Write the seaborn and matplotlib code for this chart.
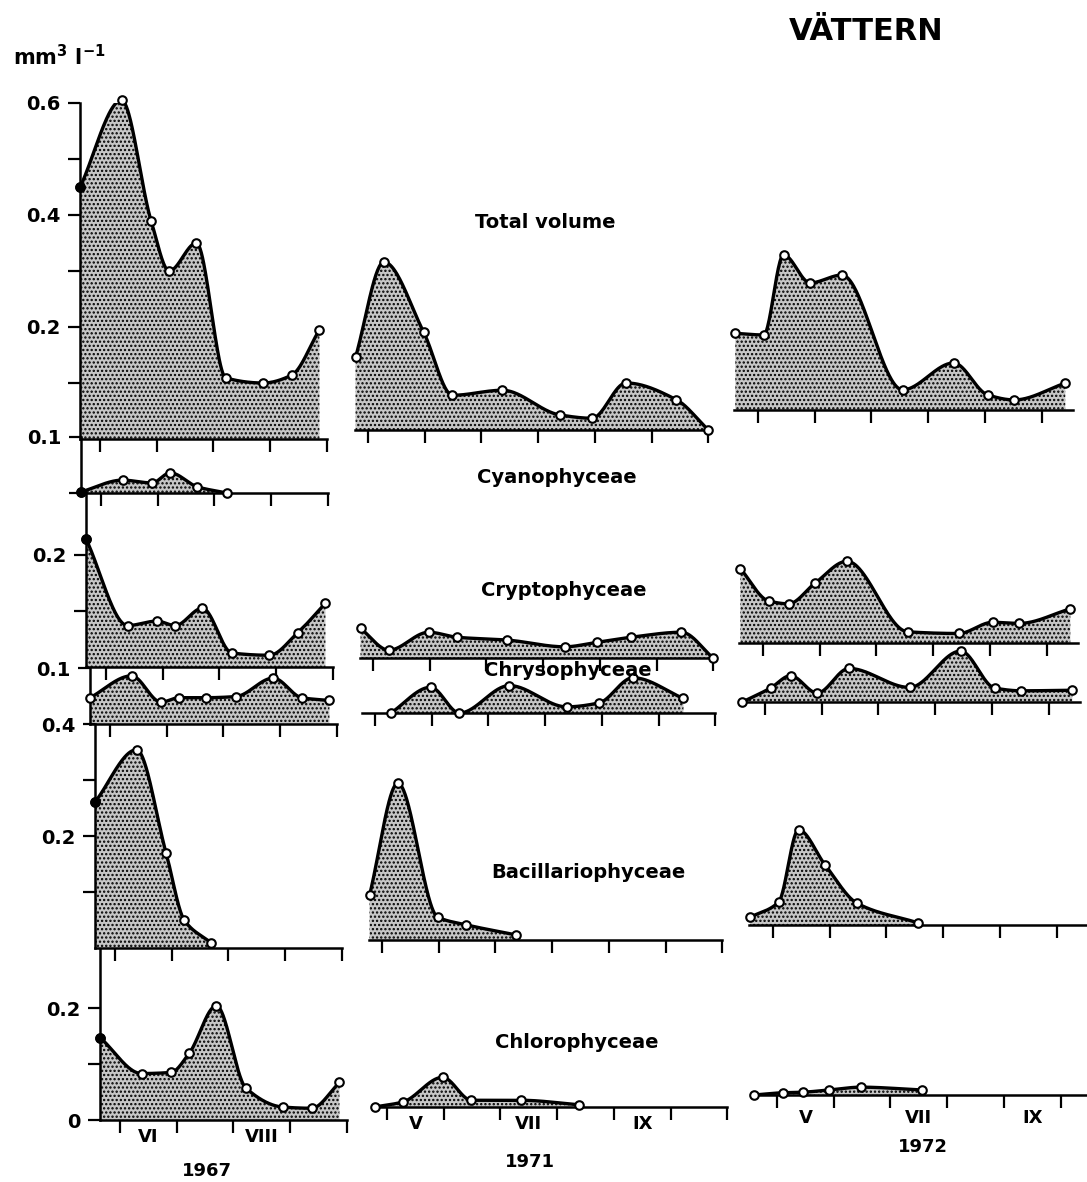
import numpy as np
import matplotlib
matplotlib.use("Agg")
import matplotlib.pyplot as plt
import seaborn as sns

# ---------------- data (values in mm3 l-1, dates in month units: 6.0 = 1 June) -------------
nan = np.nan
panels = ["Total volume", "Cyanophyceae", "Cryptophyceae", "Chrysophyceae",
          "Bacillariophyceae", "Chlorophyceae"]

dates_1967 = [5.65, 6.38, 6.90, 7.22, 7.70, 8.22, 8.88, 9.38, 9.87]
total_1967 = [0.45, 0.605, 0.39, 0.30, 0.35, 0.109, 0.100, 0.114, 0.195]
cyano_1967 = [0.002, 0.023, 0.018, 0.036, 0.011, 0.0, nan, nan, nan]
crypto_1967 = [0.228, 0.074, 0.082, 0.074, 0.105, 0.025, 0.021, 0.061, 0.114]
chryso_1967 = [0.047, 0.086, 0.039, 0.047, 0.047, 0.049, 0.082, 0.047, 0.042]
bacil_1967 = [0.261, 0.354, 0.170, 0.050, 0.009, nan, nan, nan, nan]
chloro_1967 = [0.147, 0.083, 0.085, 0.119, 0.204, 0.057, 0.023, 0.021, 0.067]

dates_1971 = [4.78, 5.28, 5.98, 6.49, 7.37, 8.38, 8.95, 9.55, 10.44, 11.0]
total_1971 = [0.130, 0.300, 0.175, 0.062, 0.071, 0.027, 0.021, 0.084, 0.054, 0.0]
crypto_1971 = [0.053, 0.014, 0.046, 0.037, 0.032, 0.020, 0.028, 0.037, 0.046, 0.0]
chryso_1971 = [nan, 0.0, 0.046, 0.0, 0.049, 0.011, 0.018, 0.063, 0.026, nan]
bacil_1971 = [0.080, 0.280, 0.041, 0.027, 0.009, nan, nan, nan, nan, nan]
chloro_1971 = [0.0, 0.009, 0.053, 0.012, 0.012, 0.004, nan, nan, nan, nan]

dates_1972 = [4.60, 5.10, 5.45, 5.92, 6.48, 7.55, 8.45, 9.05, 9.52, 10.42]
total_1972 = [0.137, 0.134, 0.277, 0.227, 0.241, 0.036, 0.084, 0.027, 0.018, 0.048]
crypto_1972 = [0.133, 0.075, 0.070, 0.107, 0.146, 0.020, 0.017, 0.037, 0.035, 0.061]
chryso_1972 = [0.0, 0.025, 0.047, 0.016, 0.060, 0.026, 0.091, 0.025, 0.020, 0.021]
bacil_1972 = [0.014, 0.041, 0.170, 0.107, 0.039, 0.004, nan, nan, nan, nan]
chloro_1972 = [0.0, 0.004, 0.005, 0.009, 0.014, 0.009, nan, nan, nan, nan]

years = ["1967", "1971", "1972"]
month_labels_1967 = {6.5: "VI", 8.5: "VIII"}
month_labels_1971 = {5.5: "V", 7.5: "VII", 9.5: "IX"}
month_labels_1972 = {5.5: "V", 7.5: "VII", 9.5: "IX"}

series = {
    "1967": (dates_1967, {"Total volume": total_1967, "Cyanophyceae": cyano_1967,
                          "Cryptophyceae": crypto_1967, "Chrysophyceae": chryso_1967,
                          "Bacillariophyceae": bacil_1967, "Chlorophyceae": chloro_1967}),
    "1971": (dates_1971, {"Total volume": total_1971, "Cryptophyceae": crypto_1971,
                          "Chrysophyceae": chryso_1971, "Bacillariophyceae": bacil_1971,
                          "Chlorophyceae": chloro_1971}),
    "1972": (dates_1972, {"Total volume": total_1972, "Cryptophyceae": crypto_1972,
                          "Chrysophyceae": chryso_1972, "Bacillariophyceae": bacil_1972,
                          "Chlorophyceae": chloro_1972}),
}
month_labels = {"1967": month_labels_1967, "1971": month_labels_1971, "1972": month_labels_1972}

# ---------------- layout (pixels of the 1087x1182 page) ----------------
sns.set_style("white")
plt.rcParams["font.family"] = ["DejaVu Sans"]
plt.rcParams["font.weight"] = "bold"
plt.rcParams["hatch.linewidth"] = 1.1
for k in ["text.color", "axes.labelcolor", "xtick.color", "ytick.color", "axes.edgecolor"]:
    plt.rcParams[k] = "black"

W, H = 1087, 1182
PXM = 56.7     # pixels per month
PXU = 560.0    # pixels per 1 mm3 l-1

col_cfg = {
    "1967": dict(xlim=(5.65, 10.0), ref=6.0, ticks=[6, 7, 8, 9, 10]),
    "1971": dict(xlim=(4.77, 11.0), ref=5.0, ticks=[5, 6, 7, 8, 9, 10, 11]),
    "1972": dict(xlim=(4.57, 10.55), ref=5.0, ticks=[5, 6, 7, 8, 9, 10]),
}
# (baseline y px, ymax, x px of reference month tick)
panel_pos = {
    "1967": {"Total volume": (439, 0.6, 100), "Cyanophyceae": (493, 0.1, 101),
             "Cryptophyceae": (667, 0.31, 106), "Chrysophyceae": (724, 0.1, 110),
             "Bacillariophyceae": (948, 0.4, 115), "Chlorophyceae": (1120, 0.305, 120)},
    "1971": {"Total volume": (430, 0.32, 368), "Cryptophyceae": (658, 0.2, 373),
             "Chrysophyceae": (713, 0.1, 375), "Bacillariophyceae": (940, 0.3, 382),
             "Chlorophyceae": (1107, 0.1, 387)},
    "1972": {"Total volume": (410, 0.3, 758), "Cryptophyceae": (643, 0.2, 763),
             "Chrysophyceae": (702, 0.1, 765), "Bacillariophyceae": (925, 0.2, 773),
             "Chlorophyceae": (1095, 0.1, 777)},
}
yticks_1967 = {
    "Total volume": ([0.1, 0.2, 0.3, 0.4, 0.5, 0.6], ["", "0.2", "", "0.4", "", "0.6"]),
    "Cyanophyceae": ([0.0, 0.1], ["", "0.1"]),
    "Cryptophyceae": ([0.1, 0.2], ["", "0.2"]),
    "Chrysophyceae": ([0.1], ["0.1"]),
    "Bacillariophyceae": ([0.1, 0.2, 0.3, 0.4], ["", "0.2", "", "0.4"]),
    "Chlorophyceae": ([0.0, 0.1, 0.2], ["0", "", "0.2"]),
}


def pchip(x, y, xs):
    """Shape-preserving cubic curve through the measured points (drawing only)."""
    x = np.asarray(x, float)
    y = np.asarray(y, float)
    h = np.diff(x)
    d = np.diff(y) / h
    n = len(x)
    m = np.zeros(n)
    for k in range(1, n - 1):
        if d[k - 1] * d[k] > 0:
            w1 = 2 * h[k] + h[k - 1]
            w2 = h[k] + 2 * h[k - 1]
            m[k] = (w1 + w2) / (w1 / d[k - 1] + w2 / d[k])
    m[0] = d[0]
    m[-1] = d[-1]
    idx = np.clip(np.searchsorted(x, xs) - 1, 0, n - 2)
    t = (xs - x[idx]) / h[idx]
    h00 = 2 * t**3 - 3 * t**2 + 1
    h10 = t**3 - 2 * t**2 + t
    h01 = -2 * t**3 + 3 * t**2
    h11 = t**3 - t**2
    return h00 * y[idx] + h10 * h[idx] * m[idx] + h01 * y[idx + 1] + h11 * h[idx] * m[idx + 1]


fig = plt.figure(figsize=(W / 100, H / 100), dpi=100)

for yr in years:
    cfg = col_cfg[yr]
    dates, vals = series[yr]
    for name in panels:
        if name not in panel_pos[yr]:
            continue
        base, ymax, refpx = panel_pos[yr][name]
        x0, x1 = cfg["xlim"]
        left = refpx + (x0 - cfg["ref"]) * PXM
        width = (x1 - x0) * PXM
        height = ymax * PXU
        ax = fig.add_axes([left / W, 1 - base / H, width / W, height / H])
        ax.patch.set_alpha(0)

        v = np.asarray(vals[name], float)
        dx = np.asarray(dates, float)
        ok = ~np.isnan(v)
        dx, v = dx[ok], v[ok]
        xs = np.linspace(dx[0], dx[-1], 400)
        ys = np.clip(pchip(dx, v, xs), 0, None)
        ax.fill_between(xs, 0, ys, facecolor="#c6c6c6", edgecolor="black",
                        hatch="....", linewidth=0, zorder=1)
        sns.lineplot(x=xs, y=ys, ax=ax, color="black", linewidth=2.4,
                     estimator=None, sort=False, zorder=3)
        sns.scatterplot(x=dx, y=v, ax=ax, s=38, color="white", edgecolor="black",
                        linewidth=1.5, zorder=5, clip_on=False)
        if yr == "1967" and name not in ("Chrysophyceae",):
            # first sample of 1967 drawn as a solid dot in the original
            sns.scatterplot(x=dx[:1], y=v[:1], ax=ax, s=40, color="black",
                            edgecolor="black", linewidth=1.2, zorder=6, clip_on=False)
        ax.set_xlabel("")
        ax.set_ylabel("")

        ax.set_xlim(x0, x1)
        ax.set_ylim(0, ymax)
        for s in ["top", "right"]:
            ax.spines[s].set_visible(False)
        ax.spines["bottom"].set_linewidth(1.8)
        ax.spines["left"].set_linewidth(1.8)
        ax.set_xticks(cfg["ticks"])
        ax.set_xticklabels([])
        ax.tick_params(axis="x", which="major", bottom=True, direction="out",
                       length=9, width=1.6, color="black")
        if yr == "1967":
            t, lab = yticks_1967[name]
            ax.set_yticks(t)
            ax.set_yticklabels(lab, fontsize=14, fontweight="bold")
            ax.tick_params(axis="y", left=True, direction="out", length=9, width=1.6,
                           pad=5, color="black", labelcolor="black")
        else:
            ax.spines["left"].set_visible(False)
            ax.set_yticks([])
        if name == "Chlorophyceae":
            ml = month_labels[yr]
            ax.set_xticks(list(ml.keys()), minor=True)
            ax.set_xticklabels(list(ml.values()), minor=True, fontsize=13,
                               fontweight="bold")
            ax.tick_params(axis="x", which="minor", bottom=True, length=0,
                           pad=6 if yr != "1972" else 10, labelcolor="black")


def ftext(x, y, s, **kw):
    fig.text(x / W, 1 - y / H, s, ha="center", va="center", fontweight="bold",
             color="black", **kw)


ftext(866, 31, "VÄTTERN", fontsize=22)
fig.text(13 / W, 1 - 57 / H, "mm$^{\\mathbf{3}}$ l$^{\\mathbf{-1}}$", ha="left", va="center",
         fontsize=15, fontweight="bold", color="black")
ftext(545, 223, "Total volume", fontsize=14)
ftext(557, 478, "Cyanophyceae", fontsize=14)
ftext(564, 590, "Cryptophyceae", fontsize=14)
ftext(568, 670, "Chrysophyceae", fontsize=14)
ftext(588, 872, "Bacillariophyceae", fontsize=14)
ftext(577, 1042, "Chlorophyceae", fontsize=14)
ftext(207, 1171, "1967", fontsize=13)
ftext(530, 1162, "1971", fontsize=13)
ftext(923, 1147, "1972", fontsize=13)

fig.savefig("out.png", dpi=100)
